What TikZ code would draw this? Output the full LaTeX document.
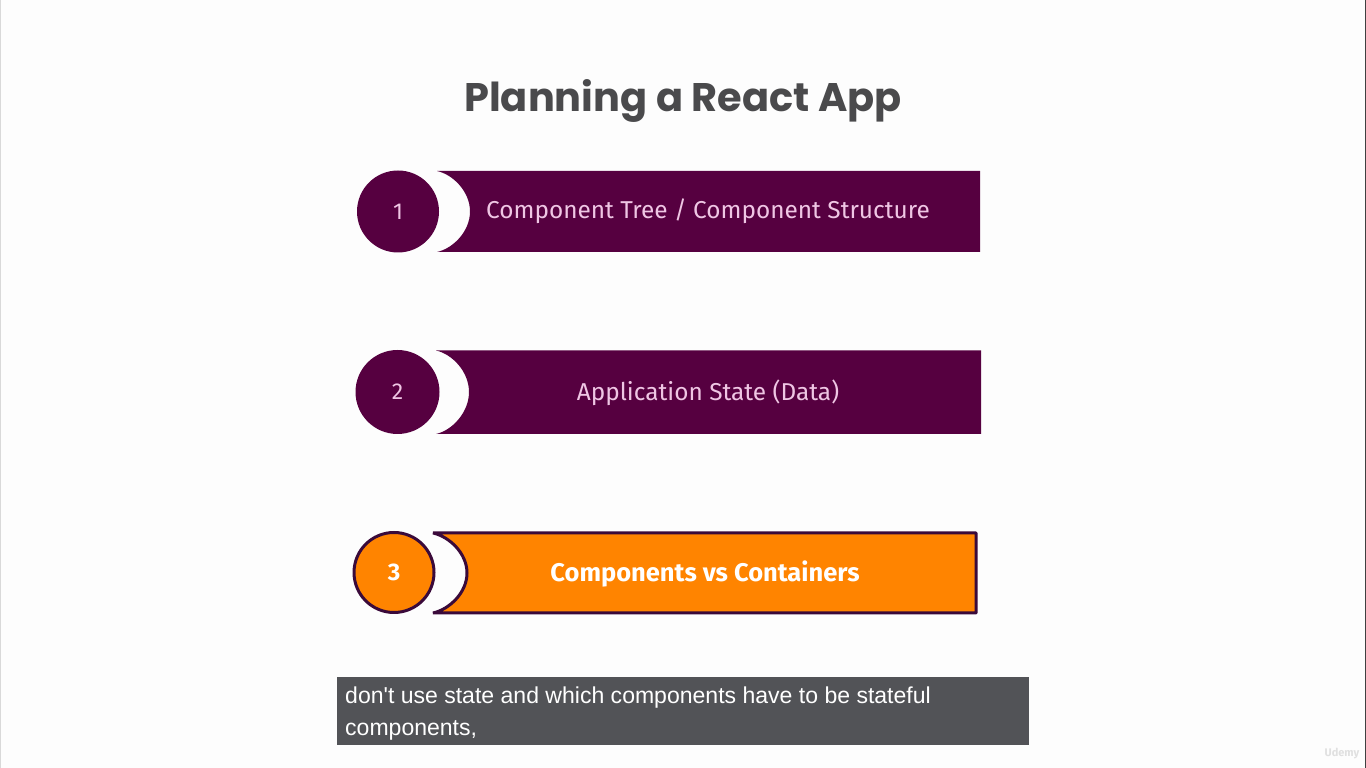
\documentclass[tikz,border=0pt]{standalone}
\usepackage{fontspec}
\setmainfont{Fira Sans}
\newfontfamily\titlefont{Poppins}
\newfontfamily\capfont{Liberation Sans}
\definecolor{plum}{HTML}{560040}
\definecolor{ink}{HTML}{3A0A3A}
\definecolor{orangefill}{HTML}{FF8400}
\definecolor{pagebg}{HTML}{FDFDFD}
\definecolor{titlegrey}{HTML}{4A4A4C}
\definecolor{capgrey}{HTML}{525357}
\definecolor{palepink}{HTML}{EFC6E4}
\tikzset{
  x=1pt,y=1pt,
  plumbar/.style={fill=plum,draw=none},
  orangebar/.style={fill=orangefill,draw=ink,line width=3pt,line join=bevel},
  numdot/.style={circle,fill=plum,minimum size=82pt,inner sep=0pt,text=palepink,font=\fontsize{23}{26}\selectfont},
  numdotb/.style={circle,fill=orangefill,draw=ink,line width=3pt,minimum size=80pt,inner sep=0pt,text=white,font=\fontsize{24}{26}\selectfont\bfseries},
  barlabel/.style={text=palepink,font=\fontsize{24.4}{27}\selectfont,inner sep=0pt,anchor=center},
  barlabelb/.style={text=white,font=\fontsize{25.5}{28}\selectfont\bfseries,inner sep=0pt,anchor=center},
  captext/.style={text=white,font=\capfont\fontsize{23.03}{32}\selectfont,inner sep=0pt,anchor=base west},
}
\begin{document}
\begin{tikzpicture}
\useasboundingbox (0,0) rectangle (1366,768);
\fill[pagebg] (0,0) rectangle (1366,768);
\fill[black!75] (1365,0) rectangle (1366,768);
\fill[black!15] (0,0) rectangle (0.8,768);
% title
\node[text=titlegrey,font=\titlefont\bfseries\fontsize{39.9}{46}\selectfont,inner sep=0pt] (title) at (683,667) {Planning a React App};
% bar 1
\path[plumbar] (437,516)
  .. controls (453,519.5) and (470,536.5) .. (470,556.5)
  .. controls (470,576.5) and (453,593.5) .. (437,597)
  -- (980,597) -- (980,516) -- cycle;
\node[numdot] (n1) at (398,556.5) {1};
\node[barlabel] (t1) at (708,556.5) {Component Tree / Component Structure};
% bar 2
\path[plumbar] (436,334)
  .. controls (452,337.5) and (469,355.5) .. (469,376)
  .. controls (469,396.5) and (452,414) .. (436,417.5)
  -- (981,417.5) -- (981,334) -- cycle;
\node[numdot,minimum size=84pt] (n2) at (397.5,376) {2};
\node[barlabel] (t2) at (708,375.5) {Application State (Data)};
% bar 3
\path[orangebar] (433,155)
  .. controls (449,158.5) and (467,175) .. (467,195)
  .. controls (467,215) and (449,231.5) .. (433,235)
  -- (976,235) -- (976,155) -- cycle;
\node[numdotb] (n3) at (394,195.5) {3};
\node[barlabelb] (t3) at (705,194.5) {Components vs Containers};
% caption
\fill[capgrey] (337,23) rectangle (1029,91);
\node[captext] (c1) at (345,64.5) {don't use state and which components have to be stateful};
\node[captext] (c2) at (345,32.5) {components,};
% watermark
\node[text=black!12,font=\bfseries\fontsize{11}{12}\selectfont,inner sep=0pt] (wm) at (1342,14) {Udemy};
\end{tikzpicture}
\end{document}
